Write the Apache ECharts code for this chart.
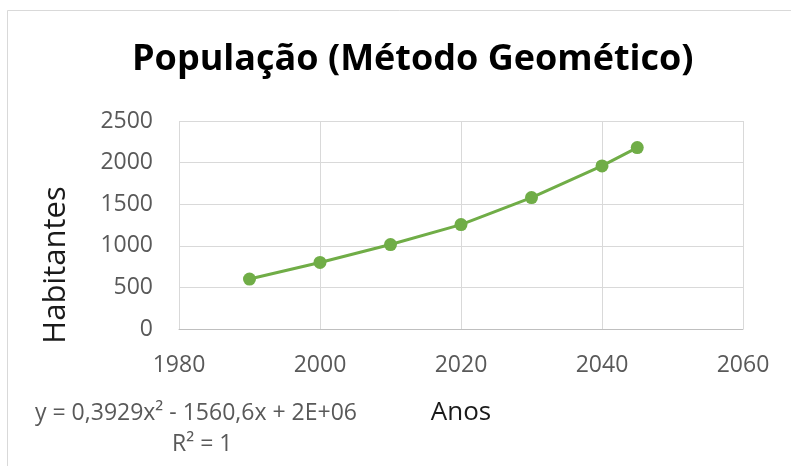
<!DOCTYPE html>
<html>
<head>
<meta charset="utf-8">
<script src="https://cdn.jsdelivr.net/npm/echarts@6/dist/echarts.min.js"></script>
<style>html,body{margin:0;padding:0;background:#fff;}#c{width:791px;height:466px;}</style>
</head>
<body>
<div id="c"></div>
<script>
const years = [1990, 2000, 2010, 2020, 2030, 2040, 2045];
const population = [600, 800, 1015, 1255, 1580, 1960, 2180];
const xTicks = [1980, 2000, 2020, 2040, 2060];
const yTicks = [0, 500, 1000, 1500, 2000, 2500];
const titleText = 'População (Método Geomético)';
const xAxisName = 'Anos';
const yAxisName = 'Habitantes';
const equationText = 'y = 0,3929x² - 1560,6x + 2E+06';
const r2Text = 'R² = 1';

const chart = echarts.init(document.getElementById('c'), null, {renderer: 'canvas'});
const font = 'Open Sans, Noto Sans, sans-serif';
chart.setOption({
  animation: false,
  backgroundColor: '#fff',
  title: {
    text: titleText,
    left: 127,
    top: 37,
    textStyle: {fontFamily: font, fontSize: 36, fontWeight: 'bold', color: '#000'}
  },
  grid: {left: 179, right: 48, top: 121, bottom: 137},
  xAxis: {
    type: 'value',
    min: xTicks[0], max: xTicks[xTicks.length - 1], interval: 20,
    name: xAxisName, nameLocation: 'middle', nameGap: 71,
    nameTextStyle: {fontFamily: font, fontSize: 26, color: '#1a1a1a'},
    axisLine: {show: true, lineStyle: {color: '#bfbfbf', width: 1}},
    axisTick: {show: false},
    axisLabel: {fontFamily: font, fontSize: 23, color: '#595959', margin: 25, formatter: v => String(v)},
    splitLine: {show: true, lineStyle: {color: '#d9d9d9', width: 1}}
  },
  yAxis: {
    type: 'value',
    min: yTicks[0], max: yTicks[yTicks.length - 1], interval: 500,
    axisLine: {show: false},
    axisTick: {show: false},
    axisLabel: {fontFamily: font, fontSize: 23, color: '#595959', margin: 26, formatter: v => String(v)},
    splitLine: {show: true, lineStyle: {color: '#d9d9d9', width: 1}}
  },
  series: [{
    type: 'line',
    data: years.map((y, i) => [y, population[i]]),
    symbol: 'circle',
    symbolSize: 13,
    lineStyle: {color: '#70ad47', width: 3},
    itemStyle: {color: '#70ad47'}
  }],
  graphic: [
    {type: 'rect', shape: {x: 7.5, y: 10.5, width: 800, height: 470}, style: {fill: 'none', stroke: '#d9d9d9', lineWidth: 1}, silent: true},
    {type: 'text', x: 56, y: 265, rotation: Math.PI / 2,
     style: {text: yAxisName, font: '31px ' + font, fill: '#1a1a1a', align: 'center', verticalAlign: 'middle'}},
    {type: 'text', left: 35, top: 402, style: {text: equationText, font: '23px ' + font, fill: '#595959'}},
    {type: 'text', left: 172, top: 433, style: {text: r2Text, font: '23px ' + font, fill: '#595959'}}
  ]
});
</script>
</body>
</html>
